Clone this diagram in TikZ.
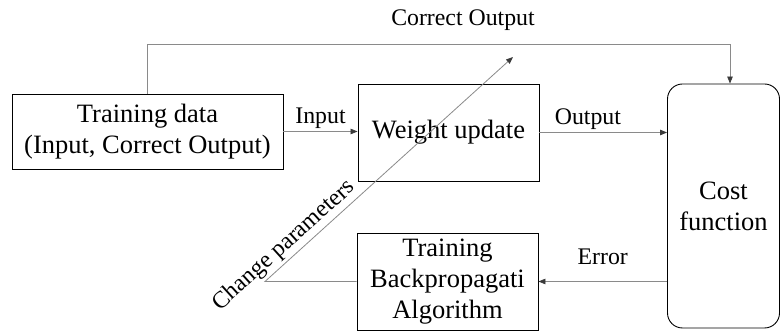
\documentclass[tikz,border=0pt]{standalone}
\usepackage{fontspec}
\setmainfont{Liberation Serif}
\usetikzlibrary{arrows.meta}
\definecolor{lineGray}{HTML}{8A8A8A}
\definecolor{tipGray}{HTML}{3A3A3A}

\begin{document}
\begin{tikzpicture}[x=1pt,y=1pt,
  box/.style={draw,line width=0.9pt,align=center,inner sep=0pt,font=\fontsize{26.5}{31}\selectfont},
  conn/.style={draw=lineGray,line width=0.8pt,-{Triangle[length=7pt,width=5.5pt,color=tipGray]}},
  lbl/.style={font=\fontsize{23.8}{28}\selectfont}]
  \useasboundingbox (0,0) rectangle (781,331);
  \node[box,minimum width=271pt,minimum height=75pt] (data) at (147.5,199.5) {Training data\\(Input, Correct Output)};
  \node[box,minimum width=181pt,minimum height=97pt] (update) at (448.5,198.5) {Weight update};
  \node[box,rounded corners=15pt,minimum width=112pt,minimum height=244pt] (cost) at (723.5,125) {Cost\\function};
  \node[box,minimum width=181pt,minimum height=97pt] (backprop) at (447.5,49.5) {Training\\Backpropagati\\Algorithm};
  \coordinate (corner) at (730,287);
  \coordinate (bend) at (265,49.5);
  \coordinate (tip) at (513,274);
  \draw[conn] (data.north) |- (corner) -- (corner |- cost.north);
  \node[lbl] (correctlbl) at (463,310.5) {Correct Output};
  \draw[conn] (data.east) -- (data.east -| update.west) node[lbl,midway,above,yshift=-1pt] (inputlbl) {Input};
  \draw[conn] (update.east) -- (update.east -| cost.west) node[lbl,pos=0.38,above,yshift=-1pt] (outputlbl) {Output};
  \draw[conn] (cost.west |- backprop.east) -- (backprop.east) node[lbl,midway,above=13pt] (errorlbl) {Error};
  \draw[conn] (backprop.west) -- (bend) -- (tip) node[lbl,pos=0.114,sloped,above,inner sep=2.5pt] (changelbl) {Change parameters};
\end{tikzpicture}
\end{document}
